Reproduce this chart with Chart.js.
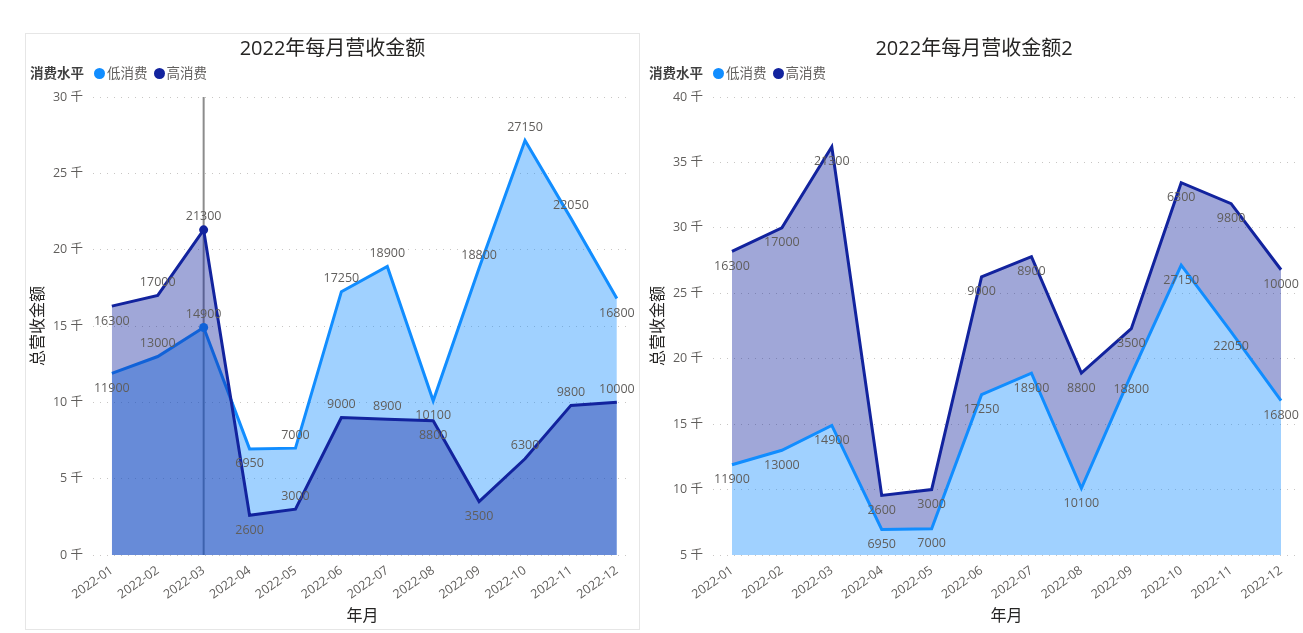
<!DOCTYPE html>
<html lang="zh">
<head>
<meta charset="utf-8">
<title>2022年每月营收金额</title>
<script src="https://cdn.jsdelivr.net/npm/chart.js@4.4.0/dist/chart.umd.min.js"></script>
<style>
  body { margin: 0; width: 1303px; height: 633px; background: #fff; position: relative; overflow: hidden;
         font-family: "Open Sans", "Noto Sans CJK SC", sans-serif; }
  .panel { position: absolute; top: 33px; height: 597px; }
  .panel canvas { position: absolute; left: 0; top: 0; }
  .panel.boxed { border: 1px solid #e6e6e6; box-sizing: border-box; }
  .title { position: absolute; left: 0; right: 0; top: 3px; text-align: center; font-size: 20px;
           line-height: 24px; color: #252423; }
  .legend { position: absolute; top: 31px; font-size: 13.5px; line-height: 18px; color: #605E5C;
            display: flex; align-items: center; white-space: nowrap; }
  .legend b { color: #404040; font-weight: 700; margin-right: 10px; }
  .legend i { display: inline-block; width: 11px; height: 11px; border-radius: 50%; margin-right: 2px; }
  .legend span { margin-right: 6px; }
</style>
</head>
<body>

<div class="panel boxed" style="left:25px;width:615px;"></div>
<div class="panel" id="leftPanel" style="left:25px;width:615px;">
  <canvas id="leftChart" width="615" height="597"></canvas>
  <div class="title">2022年每月营收金额</div>
  <div class="legend" style="left:5px;"><b>消费水平</b><i style="background:#118DFF"></i><span>低消费</span><i style="background:#12239E"></i><span>高消费</span></div>
</div>

<div class="panel" id="rightPanel" style="left:645px;width:658px;">
  <canvas id="rightChart" width="658" height="597"></canvas>
  <div class="title">2022年每月营收金额2</div>
  <div class="legend" style="left:4px;"><b>消费水平</b><i style="background:#118DFF"></i><span>低消费</span><i style="background:#12239E"></i><span>高消费</span></div>
</div>

<script>
/* ── Data ──────────────────────────────────────────────── */
const months     = ['2022-01','2022-02','2022-03','2022-04','2022-05','2022-06',
                    '2022-07','2022-08','2022-09','2022-10','2022-11','2022-12'];
const lowSpend   = [11900, 13000, 14900, 6950, 7000, 17250, 18900, 10100, 18800, 27150, 22050, 16800];
const highSpend  = [16300, 17000, 21300, 2600, 3000, 9000, 8900, 8800, 3500, 6300, 9800, 10000];
const leftTicks  = [0, 5000, 10000, 15000, 20000, 25000, 30000];
const rightTicks = [5000, 10000, 15000, 20000, 25000, 30000, 35000, 40000];

// where each data label sits relative to its point (left chart)
const leftLowPlace  = ['below','above','above','below','above','above','above','below','above','above','above','below'];
const leftHighPlace = ['below','above','above','below','above','above','above','below','below','above','above','above'];
const HOVER_INDEX = 2; // crosshair shown on 2022-03

const FONT = '"Open Sans", "Noto Sans CJK SC", sans-serif';
const LOW_COLOR  = '#118DFF';
const HIGH_COLOR = '#12239E';
const LOW_FILL   = 'rgba(17,141,255,0.4)';
const HIGH_FILL  = 'rgba(18,35,158,0.4)';

Chart.defaults.font.family = FONT;
Chart.defaults.color = '#605E5C';

const points = arr => arr.map((v, i) => ({ x: i, y: v }));

/* ── Plugins ───────────────────────────────────────────── */
const valueLabels = {
  id: 'valueLabels',
  afterDatasetsDraw(chart, args, opts) {
    const ctx = chart.ctx;
    ctx.save();
    ctx.font = '12.5px ' + FONT;
    ctx.fillStyle = '#605E5C';
    ctx.textAlign = 'center';
    ctx.textBaseline = 'middle';
    chart.data.datasets.forEach((ds, di) => {
      const meta = chart.getDatasetMeta(di);
      const place = opts.placement[di];
      meta.data.forEach((pt, i) => {
        const dy = place[i] === 'above' ? -13 : 15;
        ctx.fillText(String(ds.data[i].y), pt.x, pt.y + dy);
      });
    });
    ctx.restore();
  }
};

const hoverLine = {
  id: 'hoverLine',
  beforeDatasetsDraw(chart, args, opts) {
    const x = chart.scales.x.getPixelForValue(opts.index);
    const { top, bottom } = chart.chartArea;
    const ctx = chart.ctx;
    ctx.save();
    ctx.strokeStyle = '#8c8c8c';
    ctx.lineWidth = 2;
    ctx.beginPath();
    ctx.moveTo(x, top);
    ctx.lineTo(x, bottom);
    ctx.stroke();
    ctx.restore();
  }
};

/* ── Shared options ────────────────────────────────────── */
function baseOptions({ xMin, xMax, yMin, yMax, yTicks, padRight, stacked }) {
  return {
    responsive: false,
    animation: false,
    events: [],
    layout: { padding: { top: 64, left: 0, right: padRight, bottom: 0 } },
    plugins: { legend: { display: false }, tooltip: { enabled: false } },
    scales: {
      x: {
        type: 'linear',
        min: xMin, max: xMax,
        grid: { display: false },
        border: { display: false },
        afterBuildTicks: s => { s.ticks = months.map((_, i) => ({ value: i })); },
        afterFit: s => { s.height = 75; },
        ticks: {
          autoSkip: false, minRotation: 35, maxRotation: 35, padding: 0,
          font: { size: 12.5 }, color: '#605E5C',
          callback: v => months[v]
        },
        title: { display: true, text: '年月', font: { size: 16 }, color: '#252423', padding: { top: 0, bottom: 4 } }
      },
      y: {
        min: yMin, max: yMax,
        stacked: stacked,
        afterBuildTicks: s => { s.ticks = yTicks.map(v => ({ value: v })); },
        afterFit: s => { s.width = 68; },
        grid: { color: '#c8c6c4', lineWidth: 1, drawTicks: false },
        border: { display: false, dash: [1, 6] },
        ticks: { padding: 10, font: { size: 12.5 }, color: '#605E5C', callback: v => (v / 1000) + ' 千' },
        title: { display: true, text: '总营收金额', font: { size: 16 }, color: '#252423' }
      }
    }
  };
}

/* ── Left: overlapping areas ───────────────────────────── */
const leftOpts = baseOptions({ xMin: -0.41, xMax: 11.33, yMin: 0, yMax: 30000, yTicks: leftTicks, padRight: 8, stacked: false });
leftOpts.plugins.valueLabels = { placement: [leftLowPlace, leftHighPlace] };
leftOpts.plugins.hoverLine = { index: HOVER_INDEX };

new Chart(document.getElementById('leftChart'), {
  type: 'line',
  data: {
    datasets: [
      { label: '低消费', data: points(lowSpend), order: 1, borderColor: LOW_COLOR, backgroundColor: LOW_FILL,
        fill: 'origin', borderWidth: 3, tension: 0,
        pointRadius: c => c.dataIndex === HOVER_INDEX ? 4.5 : 0, pointBackgroundColor: LOW_COLOR, pointBorderWidth: 0 },
      { label: '高消费', data: points(highSpend), order: 0, borderColor: HIGH_COLOR, backgroundColor: HIGH_FILL,
        fill: 'origin', borderWidth: 3, tension: 0,
        pointRadius: c => c.dataIndex === HOVER_INDEX ? 4.5 : 0, pointBackgroundColor: HIGH_COLOR, pointBorderWidth: 0 }
    ]
  },
  options: leftOpts,
  plugins: [hoverLine, valueLabels]
});

/* ── Right: stacked areas ──────────────────────────────── */
const rightOpts = baseOptions({ xMin: -0.38, xMax: 11.38, yMin: 5000, yMax: 40000, yTicks: rightTicks, padRight: 3, stacked: true });
rightOpts.plugins.valueLabels = { placement: [months.map(() => 'below'), months.map(() => 'below')] };

new Chart(document.getElementById('rightChart'), {
  type: 'line',
  data: {
    datasets: [
      { label: '低消费', data: points(lowSpend), borderColor: LOW_COLOR, backgroundColor: LOW_FILL,
        fill: 'start', borderWidth: 3, tension: 0, pointRadius: 0 },
      { label: '高消费', data: points(highSpend), borderColor: HIGH_COLOR, backgroundColor: HIGH_FILL,
        fill: '-1', borderWidth: 3, tension: 0, pointRadius: 0 }
    ]
  },
  options: rightOpts,
  plugins: [valueLabels]
});
</script>
</body>
</html>
